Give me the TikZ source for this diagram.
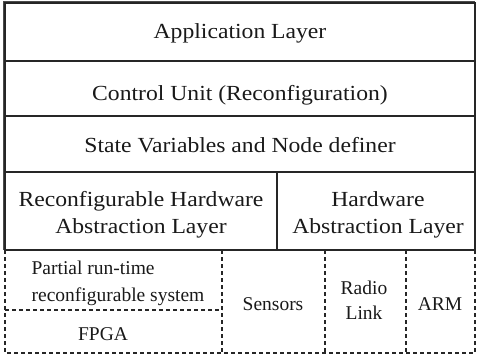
\documentclass[tikz,border=0pt]{standalone}
\usepackage{fontspec}
\setmainfont{Liberation Serif}[FakeStretch=1.1]
\newfontfamily\plainserif{Liberation Serif}
\begin{document}
\begin{tikzpicture}[x=1pt,y=-1pt,
  frame/.style={draw=black!85,line width=1.4pt},
  solidline/.style={draw=black!85,line width=1.3pt},
  dashline/.style={draw=black!85,line width=1.3pt,dash pattern=on 4pt off 3pt},
  biglabel/.style={font=\fontsize{21.5}{25}\selectfont,text=black!90,inner sep=0pt,align=center},
  smalllabel/.style={font=\plainserif\fontsize{19.5}{27}\selectfont,text=black!90,inner sep=0pt,align=center}]
\useasboundingbox (0,0) rectangle (478,356);
% solid frame (upper part)
\draw[frame] (5,250) -- (5,3) -- (475,3) -- (475,250);
\draw[line width=0.5pt,black!70] (3,250) -- (3,1) -- (475,1);
\draw[solidline] (5,61) -- (475,61);
\draw[solidline] (5,116) -- (475,116);
\draw[solidline] (5,172) -- (475,172);
\draw[solidline] (5,250) -- (475,250);
\draw[solidline] (277,172) -- (277,250);
% dashed lower part
\draw[dashline] (5,250) -- (5,353) -- (475,353) -- (475,250);
\draw[dashline] (222,250) -- (222,353);
\draw[dashline] (325,250) -- (325,353);
\draw[dashline] (406,250) -- (406,353);
\draw[dashline] (5,310) -- (222,310);
% labels
\node[biglabel] (app) at (240,33) {Application Layer};
\node[biglabel] (ctrl) at (240,95) {Control Unit (Reconfiguration)};
\node[biglabel] (state) at (240,145) {State Variables and Node definer};
\node[biglabel] (rhal) at (141,215) {Reconfigurable Hardware\\[2pt]Abstraction Layer};
\node[biglabel] (hal) at (378,215) {Hardware\\[2pt]Abstraction Layer};
\node[smalllabel,align=left] (prs) at (118,283) {Partial run-time\\reconfigurable system};
\node[smalllabel] (fpga) at (103,334) {FPGA};
\node[smalllabel] (sens) at (273,304) {Sensors};
\node[smalllabel,font=\plainserif\fontsize{19.5}{25}\selectfont] (radio) at (364,300) {Radio\\Link};
\node[smalllabel] (arm) at (440,304) {ARM};
\end{tikzpicture}
\end{document}
